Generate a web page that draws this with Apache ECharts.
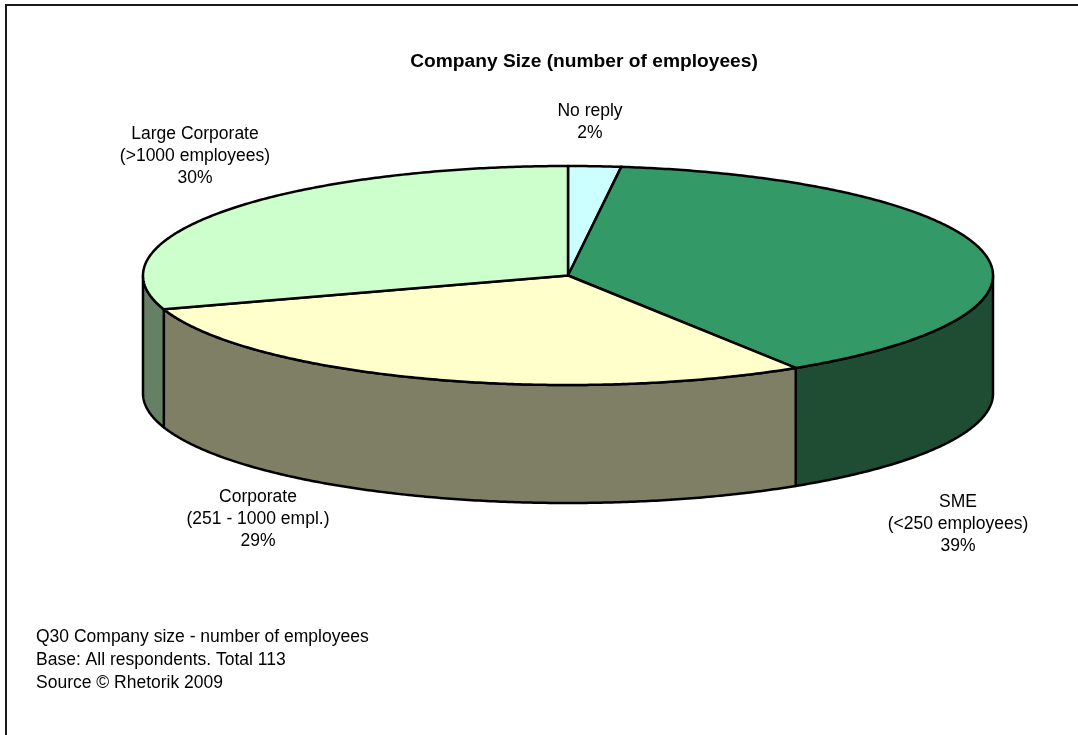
<!DOCTYPE html>
<html>
<head>
<meta charset="utf-8">
<title>Company Size (number of employees)</title>
<script src="https://cdn.jsdelivr.net/npm/echarts@6/dist/echarts.min.js"></script>
<style>
  html, body { margin: 0; padding: 0; background: #ffffff; }
  #chart { width: 1078px; height: 735px; }
</style>
</head>
<body>
<div id="chart"></div>
<script>
// Slice data, clockwise from 12 o'clock
const categories = ['No reply', 'SME', 'Corporate', 'Large Corporate'];
const subtitles = ['', '(<250 employees)', '(251 - 1000 empl.)', '(>1000 employees)'];
const shares = [2, 39, 29, 30];
const footerLines = [
  'Q30 Company size - number of employees',
  'Base: All respondents. Total 113',
  'Source \u00A9 Rhetorik 2009'
];

// Styling and layout
const topColors = ['#ccffff', '#339966', '#ffffcc', '#ccffcc'];
const sideColors = ['#99cccc', '#1e4d33', '#7f7f66', '#668066'];
const FONT = "'Liberation Sans', Arial, sans-serif";
const pie = { cx: 568, cy: 275.5, rx: 425, ry: 109.5, depth: 118 };
const labelAnchors = [[590, 122], [958, 524], [258, 519], [195, 156]];

// cumulative [start, end] percentages for each slice
const sliceData = [];
let acc = 0;
shares.forEach(function (v, i) {
  sliceData.push([acc, acc + v, i]);
  acc += v;
});

const deg = Math.PI / 180;
function pctToAngle(p) { return p / 100 * 360; }
function ellipsePoint(tDeg, dy) {
  return [pie.cx + pie.rx * Math.sin(tDeg * deg), pie.cy - pie.ry * Math.cos(tDeg * deg) + (dy || 0)];
}
function arcPoints(t0, t1, dy) {
  const pts = [];
  const n = Math.max(2, Math.ceil(Math.abs(t1 - t0) / 0.5));
  for (let k = 0; k <= n; k++) {
    pts.push(ellipsePoint(t0 + (t1 - t0) * k / n, dy));
  }
  return pts;
}

function renderSide(params, api) {
  const t0 = pctToAngle(api.value(0));
  const t1 = pctToAngle(api.value(1));
  const idx = api.value(2);
  // only the front half of the rim (90..270 deg) is visible
  const a = Math.max(t0, 90), b = Math.min(t1, 270);
  if (b <= a) return null;
  const pts = arcPoints(a, b, 0).concat(arcPoints(b, a, pie.depth));
  return {
    type: 'polygon',
    shape: { points: pts },
    style: { fill: sideColors[idx], stroke: '#000000', lineWidth: 2.5, lineJoin: 'round' }
  };
}

function renderTop(params, api) {
  const t0 = pctToAngle(api.value(0));
  const t1 = pctToAngle(api.value(1));
  const idx = api.value(2);
  const pts = [[pie.cx, pie.cy]].concat(arcPoints(t0, t1, 0));
  return {
    type: 'polygon',
    shape: { points: pts },
    style: { fill: topColors[idx], stroke: '#000000', lineWidth: 2.5, lineJoin: 'round' }
  };
}

function renderLabel(params, api) {
  const idx = api.value(2);
  const share = api.value(1) - api.value(0);
  const lines = [categories[idx]];
  if (subtitles[idx]) lines.push(subtitles[idx]);
  lines.push(Math.round(share) + '%');
  const anchor = labelAnchors[idx];
  return {
    type: 'text',
    style: {
      text: lines.join('\n'),
      x: anchor[0],
      y: anchor[1],
      align: 'center',
      verticalAlign: 'middle',
      fill: '#000000',
      fontSize: 17.5,
      fontFamily: FONT,
      lineHeight: 22
    }
  };
}

const chart = echarts.init(document.getElementById('chart'), null, { renderer: 'canvas' });
chart.setOption({
  backgroundColor: '#ffffff',
  animation: false,
  title: {
    text: 'Company Size (number of employees)',
    left: 579,
    top: 47,
    textAlign: 'center',
    textStyle: { fontFamily: FONT, fontSize: 19.2, fontWeight: 'bold', color: '#000000' }
  },
  graphic: [
    {
      type: 'rect',
      shape: { x: 6, y: 5, width: 1300, height: 1000 },
      style: { fill: 'none', stroke: '#1a1a1a', lineWidth: 2 },
      silent: true
    },
    {
      type: 'text',
      left: 36,
      top: 626,
      style: {
        text: footerLines.join('\n'),
        fontFamily: FONT,
        fontSize: 17.5,
        lineHeight: 23,
        fill: '#000000'
      }
    }
  ],
  series: [
    {
      type: 'custom',
      name: 'rim',
      coordinateSystem: 'none',
      z: 1,
      silent: true,
      renderItem: renderSide,
      data: sliceData
    },
    {
      type: 'custom',
      name: 'top',
      coordinateSystem: 'none',
      z: 2,
      silent: true,
      renderItem: renderTop,
      data: sliceData
    },
    {
      type: 'custom',
      name: 'labels',
      coordinateSystem: 'none',
      z: 3,
      silent: true,
      renderItem: renderLabel,
      data: sliceData
    }
  ]
});
</script>
</body>
</html>
